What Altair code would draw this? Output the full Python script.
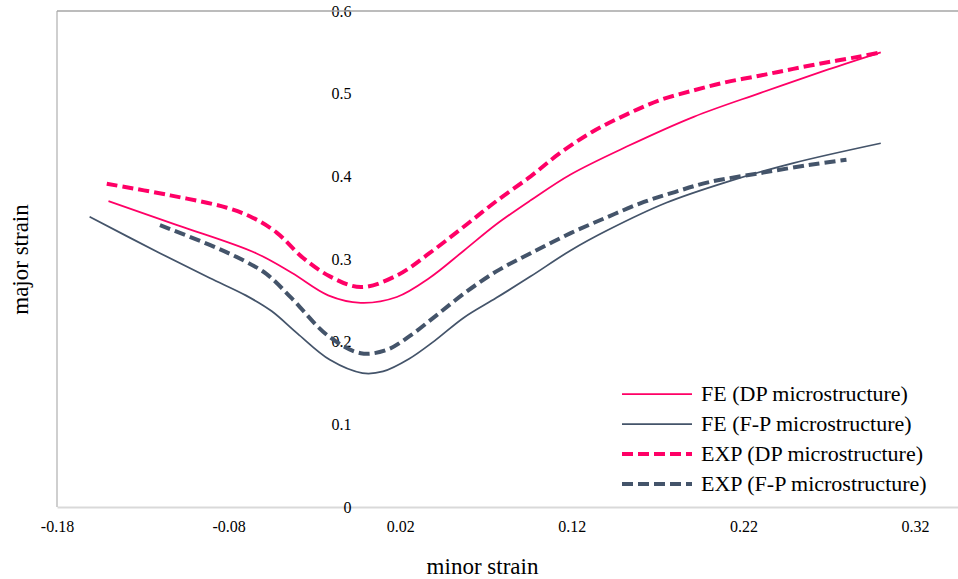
import altair as alt
import pandas as pd

# Forming limit curves: major strain vs minor strain
fe_dp_minor = [-0.150, -0.110, -0.064, -0.043, -0.022, -0.003, 0.018, 0.037, 0.057, 0.076,
               0.096, 0.119, 0.152, 0.191, 0.230, 0.269, 0.300]
fe_dp_major = [0.370, 0.341, 0.307, 0.283, 0.256, 0.247, 0.254, 0.277, 0.310, 0.342,
               0.371, 0.402, 0.436, 0.472, 0.501, 0.529, 0.550]

fe_fp_minor = [-0.161, -0.120, -0.091, -0.070, -0.055, -0.040, -0.021, -0.002, 0.010, 0.025,
               0.040, 0.057, 0.076, 0.096, 0.119, 0.141, 0.175, 0.210, 0.249, 0.300]
fe_fp_major = [0.351, 0.307, 0.277, 0.256, 0.237, 0.210, 0.178, 0.162, 0.164, 0.179,
               0.201, 0.229, 0.253, 0.279, 0.310, 0.335, 0.368, 0.393, 0.416, 0.440]

exp_dp_minor = [-0.151, -0.114, -0.081, -0.066, -0.052, -0.037, -0.021, -0.003, 0.018, 0.037,
                0.057, 0.076, 0.096, 0.113, 0.132, 0.152, 0.171, 0.191, 0.210, 0.230,
                0.249, 0.269, 0.288, 0.300]
exp_dp_major = [0.391, 0.377, 0.362, 0.350, 0.332, 0.302, 0.279, 0.266, 0.280, 0.307,
                0.339, 0.370, 0.400, 0.428, 0.454, 0.475, 0.492, 0.504, 0.514, 0.522,
                0.530, 0.538, 0.545, 0.550]

exp_fp_minor = [-0.120, -0.091, -0.072, -0.058, -0.043, -0.022, -0.003, 0.012, 0.025, 0.040,
                0.057, 0.076, 0.096, 0.119, 0.141, 0.162, 0.180, 0.200, 0.230, 0.259, 0.280]
exp_fp_major = [0.341, 0.317, 0.299, 0.282, 0.252, 0.207, 0.186, 0.190, 0.206, 0.230,
                0.258, 0.285, 0.307, 0.331, 0.351, 0.369, 0.381, 0.393, 0.404, 0.414, 0.420]

fe_names = ["FE (DP microstructure)", "FE (F-P microstructure)"]
exp_names = ["EXP (DP microstructure)", "EXP (F-P microstructure)"]
x_ticks = [-0.18, -0.08, 0.02, 0.12, 0.22, 0.32]
y_ticks = [0, 0.1, 0.2, 0.3, 0.4, 0.5, 0.6]

PINK = "#FF0066"
SLATE = "#44546A"
THIN, THICK = 1.75, 4
DASH = [11, 5]


def table(names, xs_list, ys_list):
    rows = []
    for name, xs, ys in zip(names, xs_list, ys_list):
        for i, (a, b) in enumerate(zip(xs, ys)):
            rows.append({"series": name, "order": i, "minor": a, "major": b})
    return pd.DataFrame(rows)


fe_df = table(fe_names, [fe_dp_minor, fe_fp_minor], [fe_dp_major, fe_fp_major])
exp_df = table(exp_names, [exp_dp_minor, exp_fp_minor], [exp_dp_major, exp_fp_major])

W, H = 901, 496
FONT = "Liberation Serif"

x_enc = alt.X(
    "minor:Q",
    scale=alt.Scale(domain=[-0.18, 0.345], nice=False, zero=False),
    axis=alt.Axis(
        values=x_ticks,
        labelExpr="replace(format(datum.value, '.2f'), '\u2212', '-')",
        labelFlush=False,
        title="minor strain",
        grid=False, ticks=False,
        domainColor="#d9d9d9", domainWidth=2,
        labelPadding=11, labelFontSize=16, labelFont=FONT, labelColor="#000000",
        titleFont=FONT, titleFontSize=23, titleFontWeight="normal", titleColor="#000000",
        titleX=425, titleY=59, titleAlign="center", titleBaseline="middle",
    ),
)
y_enc = alt.Y(
    "major:Q",
    scale=alt.Scale(domain=[0, 0.6], nice=False),
    axis=alt.Axis(
        values=y_ticks,
        labelExpr="format(datum.value, '~g')",
        labelFlush=False,
        orient="left", offset=-309,
        title="major strain",
        grid=False, ticks=False, domain=False,
        labelPadding=15, labelFontSize=16, labelFont=FONT, labelColor="#000000",
        titleFont=FONT, titleFontSize=23, titleFontWeight="normal", titleColor="#000000",
        titleAngle=270, titleX=-346, titleY=H / 2,
        titleAlign="center", titleBaseline="middle",
    ),
)


def make_legend(y, width, dash):
    return alt.Legend(
        title=None, orient="none", legendX=589, legendY=y,
        symbolType="M-35,0H35", symbolSize=4,
        symbolStrokeWidth=width, symbolDash=dash,
        labelFont=FONT, labelFontSize=22, labelColor="#000000", labelLimit=400,
        labelOffset=33, rowPadding=8, padding=0,
    )


fe_lines = alt.Chart(fe_df).mark_line(interpolate="catmull-rom", strokeWidth=THIN).encode(
    x=x_enc,
    y=y_enc,
    color=alt.Color("series:N", scale=alt.Scale(domain=fe_names, range=[PINK, SLATE]),
                    legend=make_legend(372, THIN, [1, 0])),
    order="order:Q",
)
exp_lines = alt.Chart(exp_df).mark_line(interpolate="catmull-rom", strokeWidth=THICK,
                                        strokeDash=DASH).encode(
    x=x_enc,
    y=y_enc,
    color=alt.Color("series:N", scale=alt.Scale(domain=exp_names, range=[PINK, SLATE]),
                    legend=make_legend(432, THICK, DASH)),
    order="order:Q",
)

edge = pd.DataFrame({"edge": [0]})
left_edge = alt.Chart(edge).mark_rule(color="#bfbfbf", strokeWidth=1.5).encode(
    x=alt.value(0), y=alt.value(0), y2=alt.value(H))
top_edge = alt.Chart(edge).mark_rule(color="#a6a6a6", strokeWidth=1.5).encode(
    x=alt.value(0), x2=alt.value(W), y=alt.value(0))

chart = alt.layer(left_edge, top_edge, fe_lines, exp_lines).resolve_scale(
    color="independent"
).resolve_legend(
    color="independent"
).properties(
    width=W, height=H,
    autosize=alt.AutoSizeParams(type="none"),
    padding={"left": 57, "top": 11, "right": 0, "bottom": 72},
    background="#ffffff",
).configure_view(stroke=None)

chart.save("out.html", embed_options={"renderer": "svg", "actions": False})
